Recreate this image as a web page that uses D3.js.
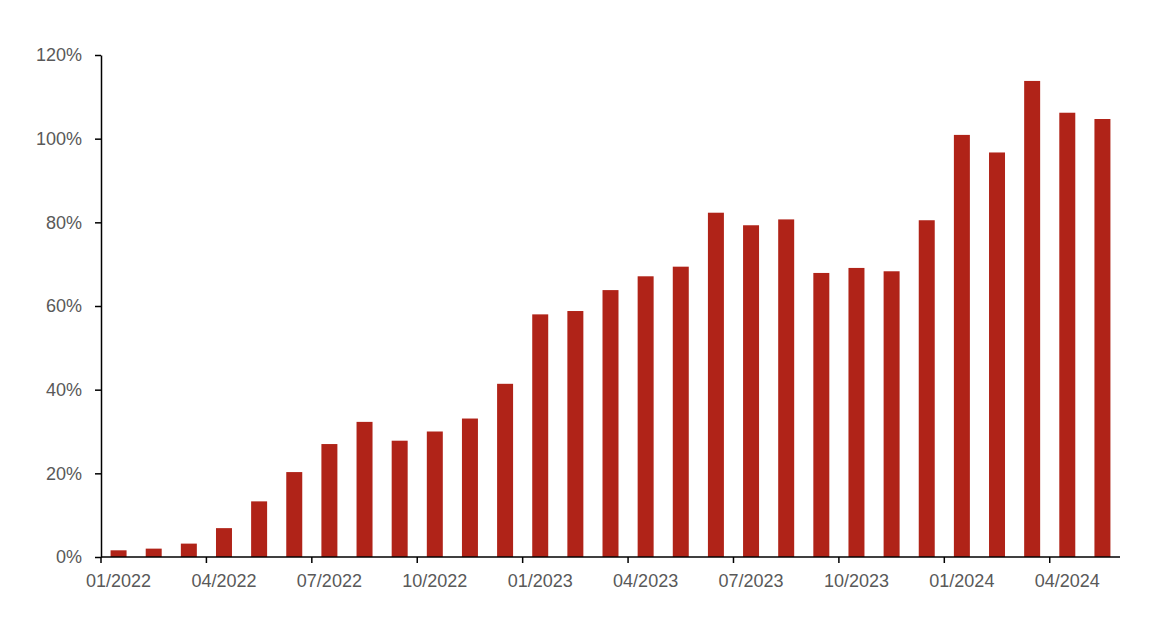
<!DOCTYPE html>
<html>
<head>
<meta charset="utf-8">
<script src="https://cdn.jsdelivr.net/npm/d3@7"></script>
<style>
  html, body { margin: 0; padding: 0; background: #ffffff; }
  svg { display: block; }
  text { font-family: "Liberation Sans", Arial, sans-serif; }
</style>
</head>
<body>
<div id="chart"></div>
<script>
const months = [
  "01/2022","02/2022","03/2022","04/2022","05/2022","06/2022","07/2022","08/2022","09/2022","10/2022","11/2022","12/2022",
  "01/2023","02/2023","03/2023","04/2023","05/2023","06/2023","07/2023","08/2023","09/2023","10/2023","11/2023","12/2023",
  "01/2024","02/2024","03/2024","04/2024","05/2024"
];
const values = [
  1.6, 2.0, 3.2, 6.9, 13.3, 20.3, 27.0, 32.3, 27.8, 30.0, 33.1, 41.4,
  58.0, 58.8, 63.8, 67.1, 69.4, 82.3, 79.3, 80.7, 67.9, 69.1, 68.3, 80.5,
  100.9, 96.7, 113.8, 106.2, 104.7
];
const yTicks = [0, 20, 40, 60, 80, 100, 120];
const labelEvery = 3;

const W = 1150, H = 637;
const margin = { left: 101, right: 30, top: 55, bottom: 80 };
const innerW = 1120 - margin.left;
const innerH = 557 - margin.top;
const pad = 0.545;

const svg = d3.select("#chart").append("svg")
  .attr("width", W).attr("height", H);
const g = svg.append("g").attr("transform", `translate(${margin.left},${margin.top})`);

const x = d3.scaleBand().domain(months).range([0, innerW])
  .paddingInner(pad).paddingOuter(pad / 2);
const y = d3.scaleLinear().domain([0, 120]).range([innerH, 0]);

// bars
g.selectAll("rect.bar").data(values).join("rect")
  .attr("class", "bar")
  .attr("x", (d, i) => x(months[i]))
  .attr("width", x.bandwidth())
  .attr("y", d => y(d))
  .attr("height", d => y(0) - y(d))
  .attr("fill", "#B02318");

// y axis
const yAxis = d3.axisLeft(y).tickValues(yTicks).tickSize(6).tickSizeOuter(0)
  .tickPadding(13).tickFormat(d => d + "%");
const yg = g.append("g").call(yAxis);
yg.select(".domain").attr("stroke", "#000").attr("stroke-width", 1.5);
yg.selectAll(".tick line").attr("stroke", "#000").attr("stroke-width", 1.5);
yg.selectAll(".tick text").attr("fill", "#595959").attr("font-size", 18)
  .attr("font-family", "'Liberation Sans', Arial, sans-serif");

// x axis baseline
g.append("line")
  .attr("x1", 0).attr("x2", innerW)
  .attr("y1", y(0)).attr("y2", y(0))
  .attr("stroke", "#000").attr("stroke-width", 1.5);

// x ticks at category boundaries every 3 months
const half = x.step() * pad / 2;
const labeled = months.filter((m, i) => i % labelEvery === 0);
g.selectAll("line.xtick").data(labeled).join("line")
  .attr("class", "xtick")
  .attr("x1", d => x(d) - half).attr("x2", d => x(d) - half)
  .attr("y1", y(0)).attr("y2", y(0) + 6)
  .attr("stroke", "#000").attr("stroke-width", 1.5);

g.selectAll("text.xlab").data(labeled).join("text")
  .attr("class", "xlab")
  .attr("x", d => x(d) + x.bandwidth() / 2)
  .attr("y", y(0) + 30)
  .attr("text-anchor", "middle")
  .attr("fill", "#595959")
  .attr("font-size", 18)
  .text(d => d);
</script>
</body>
</html>
